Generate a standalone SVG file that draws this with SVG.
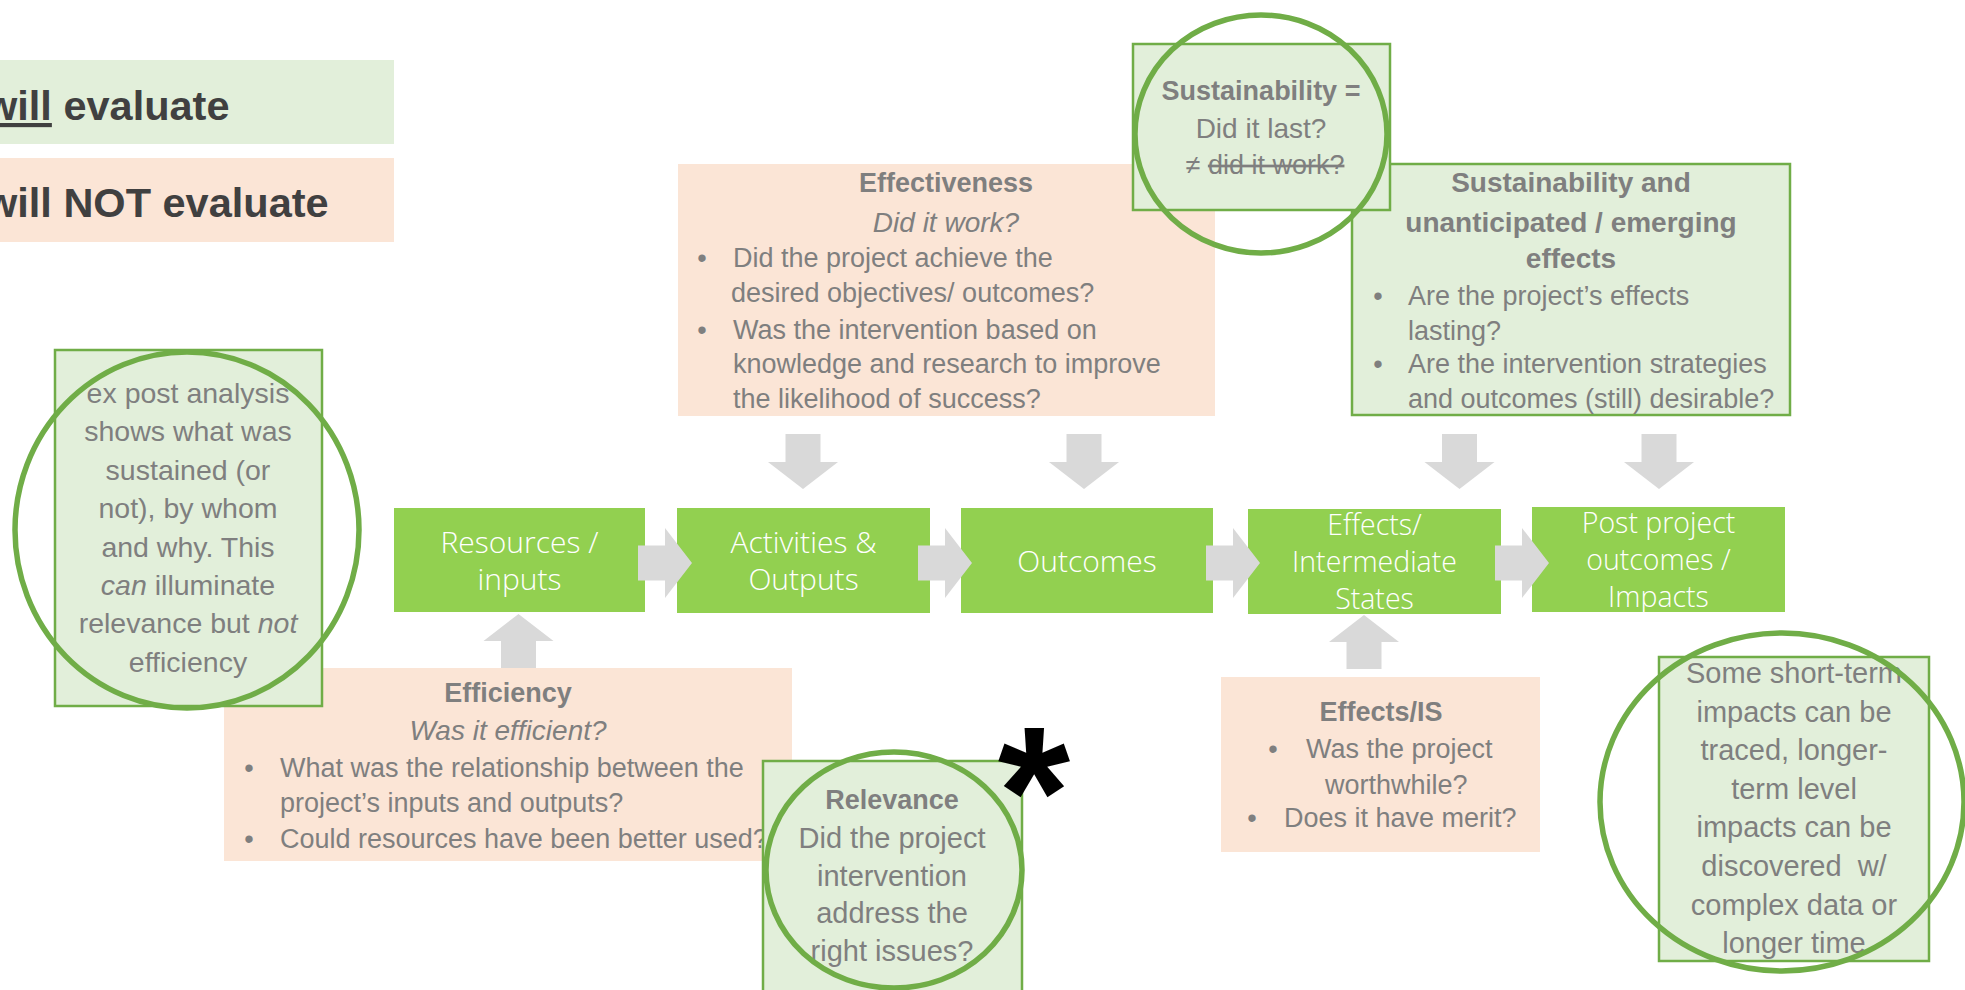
<svg xmlns="http://www.w3.org/2000/svg" xmlns:xlink="http://www.w3.org/1999/xlink" width="1965" height="990" viewBox="0 0 1965 990">
  <defs>
    <style>
      .legend { font-family: "Liberation Sans", Arial, sans-serif; font-weight: bold; font-size: 41.5px; fill: #404040; }
      .flowbox { fill: #92D050; }
      .flow { font-family: "Open Sans", "Liberation Sans", sans-serif; font-weight: 300; font-size: 30px; fill: #FFFFFF; text-anchor: middle; }
      .flow3 { font-size: 28.5px; }
      .eval { fill: #E2EFDA; stroke: #70AD47; stroke-width: 2.5; }
      .noeval { fill: #FBE5D6; }
      .t { font-family: "Liberation Sans", Arial, sans-serif; font-size: 27px; fill: #7F7F7F; }
      .big { font-size: 28.5px; }
      .mid { text-anchor: middle; }
      .b { font-weight: bold; }
      .i { font-style: italic; }
      .ring { fill: none; stroke: #70AD47; stroke-width: 5.5; }
      .arrow { fill: #D9D9D9; }
    </style>
    <!-- block arrows: origin at shaft start / tail, pointing along the flow -->
    <path id="arrow-right" class="arrow" d="M0,-17.5 H27 V-35 L54,0 L27,35 V17.5 H0 Z"/>
    <path id="arrow-down" class="arrow" d="M-17.5,0 V28 H-35 L0,55 L35,28 H17.5 V0 Z"/>
    <path id="arrow-up" class="arrow" d="M0,0 L35,27 H17.5 V54 H-17.5 V27 H-35 Z"/>
  </defs>

  <rect width="1965" height="990" fill="#FFFFFF"/>

  <!-- legend -->
  <g id="legend-evaluate">
    <rect x="0" y="60" width="394" height="84" fill="#E2EFDA"/>
    <text class="legend" x="-15" y="120"><tspan text-decoration="underline">will</tspan> evaluate</text>
  </g>
  <g id="legend-not-evaluate">
    <rect x="0" y="158" width="394" height="84" fill="#FBE5D6"/>
    <text class="legend" x="-15" y="217">will NOT evaluate</text>
  </g>

  <!-- question boxes above the chain -->
  <g id="effectiveness">
    <rect class="noeval" x="678" y="164" width="537" height="252"/>
    <text class="t b mid" x="946" y="192">Effectiveness</text>
    <text class="t i mid" x="946" y="232" style="font-size:28px">Did it work?</text>
    <text class="t mid" x="702" y="267">•</text>
    <text class="t" x="733" y="267">Did the project achieve the</text>
    <text class="t" x="731" y="302">desired objectives/ outcomes?</text>
    <text class="t mid" x="702" y="339">•</text>
    <text class="t" x="733" y="339">Was the intervention based on</text>
    <text class="t" x="733" y="373">knowledge and research to improve</text>
    <text class="t" x="733" y="408">the likelihood of success?</text>
  </g>

  <g id="sustainability-effects">
    <rect class="eval" x="1352" y="164" width="438" height="251"/>
    <text class="t b mid" x="1571" y="192" style="font-size:28px">Sustainability and</text>
    <text class="t b mid" x="1571" y="232" style="font-size:28px">unanticipated / emerging</text>
    <text class="t b mid" x="1571" y="268" style="font-size:28px">effects</text>
    <text class="t mid" x="1378" y="305">•</text>
    <text class="t" x="1408" y="305">Are the project’s effects</text>
    <text class="t" x="1408" y="340">lasting?</text>
    <text class="t mid" x="1378" y="373">•</text>
    <text class="t" x="1408" y="373">Are the intervention strategies</text>
    <text class="t" x="1408" y="408">and outcomes (still) desirable?</text>
  </g>

  <g id="sustainability">
    <rect class="eval" x="1133" y="44" width="257" height="166"/>
    <text class="t b mid" x="1261" y="100">Sustainability =</text>
    <text class="t mid" x="1261" y="138" style="font-size:28px">Did it last?</text>
    <text class="t mid" x="1265" y="174">≠ <tspan text-decoration="line-through">did it work?</tspan></text>
    <ellipse class="ring" cx="1261" cy="134" rx="126" ry="119"/>
  </g>

  <!-- results chain -->
  <g id="resources">
    <rect class="flowbox" x="394" y="508" width="251" height="104"/>
    <text class="flow" x="519.5" y="553">Resources /</text>
    <text class="flow" x="519.5" y="590">inputs</text>
  </g>
  <g id="activities">
    <rect class="flowbox" x="677" y="508" width="253" height="105"/>
    <text class="flow" x="803.5" y="553">Activities &amp;</text>
    <text class="flow" x="803.5" y="590">Outputs</text>
  </g>
  <g id="outcomes">
    <rect class="flowbox" x="961" y="508" width="252" height="105"/>
    <text class="flow" x="1087" y="572">Outcomes</text>
  </g>
  <g id="effects-intermediate">
    <rect class="flowbox" x="1248" y="509" width="253" height="105"/>
    <text class="flow flow3" x="1374.5" y="535">Effects/</text>
    <text class="flow flow3" x="1374.5" y="572">Intermediate</text>
    <text class="flow flow3" x="1374.5" y="609">States</text>
  </g>
  <g id="post-project">
    <rect class="flowbox" x="1532" y="507" width="253" height="105"/>
    <text class="flow flow3" x="1658.5" y="533">Post project</text>
    <text class="flow flow3" x="1658.5" y="570">outcomes /</text>
    <text class="flow flow3" x="1658.5" y="607">Impacts</text>
  </g>

  <!-- connectors -->
  <g id="connectors">
    <use xlink:href="#arrow-right" x="638" y="563"/>
    <use xlink:href="#arrow-right" x="918" y="563"/>
    <use xlink:href="#arrow-right" x="1206" y="563"/>
    <use xlink:href="#arrow-right" x="1495" y="563"/>
    <use xlink:href="#arrow-down" x="803" y="434"/>
    <use xlink:href="#arrow-down" x="1084" y="434"/>
    <use xlink:href="#arrow-down" x="1459.5" y="434"/>
    <use xlink:href="#arrow-down" x="1659" y="434"/>
    <use xlink:href="#arrow-up" x="518.5" y="614"/>
    <use xlink:href="#arrow-up" x="1364" y="615"/>
  </g>

  <!-- question boxes below the chain -->
  <g id="efficiency">
    <rect class="noeval" x="224" y="668" width="568" height="193"/>
    <text class="t b mid" x="508" y="702">Efficiency</text>
    <text class="t i mid" x="508" y="740" style="font-size:28px">Was it efficient?</text>
    <text class="t mid" x="249" y="777">•</text>
    <text class="t" x="280" y="777">What was the relationship between the</text>
    <text class="t" x="280" y="812">project’s inputs and outputs?</text>
    <text class="t mid" x="249" y="848">•</text>
    <text class="t" x="280" y="848">Could resources have been better used?</text>
  </g>

  <g id="effects-is">
    <rect class="noeval" x="1221" y="677" width="319" height="175"/>
    <text class="t b mid" x="1381" y="721">Effects/IS</text>
    <text class="t mid" x="1273" y="758">•</text>
    <text class="t" x="1306" y="758">Was the project</text>
    <text class="t" x="1325" y="794">worthwhile?</text>
    <text class="t mid" x="1252" y="827">•</text>
    <text class="t" x="1284" y="827">Does it have merit?</text>
  </g>

  <g id="ex-post-note">
    <rect class="eval" x="55" y="350" width="267" height="356"/>
    <text class="t big mid" x="188" y="403">ex post analysis</text>
    <text class="t big mid" x="188" y="441.4">shows what was</text>
    <text class="t big mid" x="188" y="479.8">sustained (or</text>
    <text class="t big mid" x="188" y="518.2">not), by whom</text>
    <text class="t big mid" x="188" y="556.6">and why. This</text>
    <text class="t big mid" x="188" y="595"><tspan class="i">can</tspan> illuminate</text>
    <text class="t big mid" x="188" y="633.4">relevance but <tspan class="i">not</tspan></text>
    <text class="t big mid" x="188" y="671.8">efficiency</text>
    <ellipse class="ring" cx="187" cy="530" rx="172" ry="178"/>
  </g>

  <g id="relevance">
    <rect class="eval" x="763" y="761" width="259" height="240"/>
    <text class="t b mid" x="892" y="809">Relevance</text>
    <text class="t mid" x="892" y="848" style="font-size:29px">Did the project</text>
    <text class="t mid" x="892" y="886" style="font-size:29px">intervention</text>
    <text class="t mid" x="892" y="923" style="font-size:29px">address the</text>
    <text class="t mid" x="892" y="961" style="font-size:29px">right issues?</text>
    <ellipse class="ring" cx="894" cy="870" rx="128" ry="118"/>
    <text x="1034" y="856" text-anchor="middle" font-family="Liberation Sans, Arial, sans-serif" font-weight="bold" font-size="186" fill="#000000">*</text>
  </g>

  <g id="impacts-note">
    <rect class="eval" x="1659" y="657" width="270" height="304"/>
    <text class="t mid" x="1794" y="683" style="font-size:29px">Some short-term</text>
    <text class="t mid" x="1794" y="721.6" style="font-size:29px">impacts can be</text>
    <text class="t mid" x="1794" y="760.2" style="font-size:29px">traced, longer-</text>
    <text class="t mid" x="1794" y="798.8" style="font-size:29px">term level</text>
    <text class="t mid" x="1794" y="837.4" style="font-size:29px">impacts can be</text>
    <text class="t mid" x="1794" y="876" style="font-size:29px" xml:space="preserve">discovered  w/</text>
    <text class="t mid" x="1794" y="914.6" style="font-size:29px">complex data or</text>
    <text class="t mid" x="1794" y="953.2" style="font-size:29px">longer time</text>
    <ellipse class="ring" cx="1782" cy="802" rx="182" ry="169"/>
  </g>
</svg>
